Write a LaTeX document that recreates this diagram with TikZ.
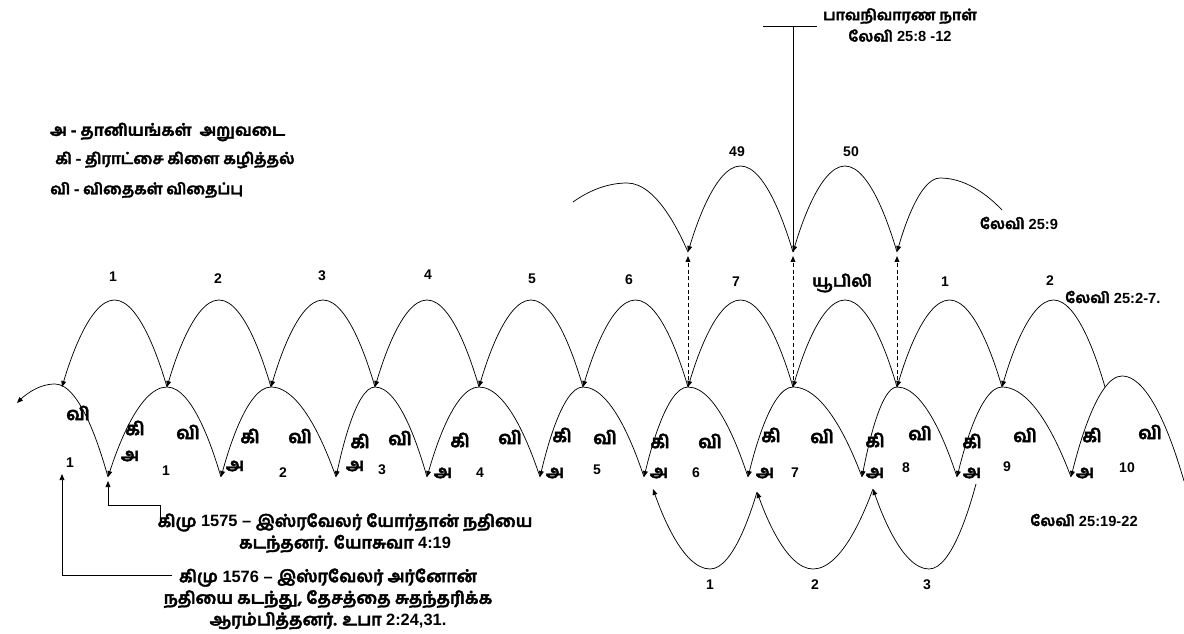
\documentclass[tikz,border=0pt]{standalone}
\usepackage{fontspec}
\setmainfont{Liberation Sans}
\newfontfamily\tam[Script=Tamil,FakeBold=2.2,Scale=1.02]{Hind Madurai}
\usetikzlibrary{arrows.meta}
\newcommand\tmw[1]{{\tam #1}}
\begin{document}
\begin{tikzpicture}[x=0.75pt,y=-0.75pt,
  arc/.style={line width=0.55pt},
  arr/.style={arc,-{Triangle[length=4.5pt,width=3.6pt]}},
  dsh/.style={line width=0.7pt,densely dashed,-{Triangle[length=4.5pt,width=3.6pt]}},
  num/.style={font=\bfseries\fontsize{10.5}{12}\selectfont,inner sep=0pt},
  ta/.style={font=\tam\bfseries\fontsize{12}{14}\selectfont,inner sep=0pt},
  tl/.style={font=\tam\bfseries\fontsize{13.2}{14}\selectfont,inner sep=0pt},
  mix/.style={font=\bfseries\fontsize{11}{16}\selectfont,inner sep=0pt,align=center},
  note/.style={font=\bfseries\fontsize{12.3}{16.2}\selectfont,inner sep=0pt,align=center}]
\useasboundingbox (0,0) rectangle (1184,634);

% ---------- legend ----------
\node[ta,anchor=west] (leg1) at (50,132) {அ - தானியங்கள்~ அறுவடை};
\node[ta,anchor=west,font=\tam\bfseries\fontsize{11.4}{14}\selectfont] (leg2) at (55,160) {கி - திராட்சை கிளை கழித்தல்};
\node[ta,anchor=west,font=\tam\bfseries\fontsize{11.2}{14}\selectfont] (leg3) at (50,190) {வி - விதைகள் விதைப்பு};

% ---------- coordinates ----------
\foreach \i/\x in {0/62,1/167,2/271,3/375,4/479,5/583,6/688,7/793,8/897,9/1002,10/1105}
  \coordinate (u\i) at (\x,387);
\foreach \i/\x in {1/114.5,2/219,3/323,4/427,5/531,6/635.5,7/740.5,8/845,9/949.5,10/1053.5}
  \coordinate (t\i) at (\x,300);
\foreach \i/\x in {0/108,1/221,2/336,3/427,4/540,5/644,6/748,7/862,8/957,9/1071}
  \coordinate (b\i) at (\x,477);
\foreach \i/\x in {0/167,1/271,2/375,3/479,4/583,5/688,6/793,7/897,8/1002}
  \coordinate (p\i) at (\x,387);
\coordinate (p9) at (1122,376);
\coordinate (pl) at (55,384);
\coordinate (bl) at (17,403);
\coordinate (br) at (1184,481);

% ---------- upper row of arcs ----------
\foreach \i/\j in {0/1,1/2,2/3,3/4,4/5,5/6,6/7,7/8,8/9,9/10}
  \draw[arr] (u\j) parabola bend (t\j) (u\i);

% ---------- lower row of arcs ----------
\foreach \i/\j in {0/1,1/2,2/3,3/4,4/5,5/6,6/7,7/8,8/9}
  \draw[arr] (b\j) parabola bend (p\i) (b\i);
\draw[arr] (br) parabola bend (p9) (b9);
\draw[arr] (b0) parabola bend (pl) (bl);

% ---------- top row (49, 50) ----------
\coordinate (w6) at (688,252);
\coordinate (w7) at (793,252);
\coordinate (w8) at (897,252);
\coordinate (wl) at (573,202);
\coordinate (wr) at (1002,210);
\coordinate (v6) at (688,256);
\coordinate (v7) at (793,256);
\coordinate (v8) at (897,256);
\draw[arc] (w6) parabola bend (627,183) (wl);
\draw[arr] (w7) parabola bend (740.5,166) (w6);
\draw[arr] (w8) parabola bend (845,166) (w7);
\draw[arr] (wr) parabola bend (940,178) (w8);

% dashed links
\draw[dsh] (u6) -- (v6);
\draw[dsh] (u7) -- (v7);
\draw[dsh] (u8) -- (v8);

% atonement day marker
\coordinate (m0) at (793,26);
\coordinate (ml) at (763,26);
\coordinate (mr) at (817,26);
\draw[arc] (m0) -- (w7);
\draw[arc] (ml) -- (mr);
\node[mix] (atone) at (900,25) {\tmw{பாவநிவாரண நாள்}\\\tmw{லேவி} 25:8 -12};

% ---------- bottom arcs (6th year harvest) ----------
\coordinate (q0) at (653,489);
\coordinate (q1) at (757,492);
\coordinate (q2) at (873,489);
\coordinate (q3) at (976,484);
\draw[arr] (q3) parabola bend (929,569) (q2);
\draw[arr] (q2) parabola bend (813,569) (q1);
\draw[arr] (q1) parabola bend (710,569) (q0);
\node[num] (bn1) at (710,585) {1};
\node[num] (bn2) at (815,585) {2};
\node[num] (bn3) at (927,585) {3};

% ---------- labels on upper row ----------
\foreach \x/\y/\t [count=\n] in {113/277/1,218/279/2,322/276/3,428/275/4,532/279/5,629/280/6,736/282/7,945/282/1,1050/281/2}
  \node[num] (yl\n) at (\x,\y) {\t};
\node[ta] (jub) at (842,283) {யூபிலி};
\node[num] (n49) at (737,152) {49};
\node[num] (n50) at (851,152) {50};

% ---------- labels on middle row ----------
\foreach \x/\y [count=\n] in {78/413,188/432,300/436,400/438,510/437,605/437,710/441,822/436,920/433,1025/435,1150/432}
  \node[tl] (vi\n) at (\x,\y) {வி};
\foreach \x/\y [count=\n] in {135/428,250/436,360/441,460/440,562/435,660/441,771/435,875/440,972/441,1092/435}
  \node[tl] (ki\n) at (\x,\y) {கி};
\foreach \x/\y [count=\n] in {130/456,235/466,355/466,443/473,555/473,659/473,765/473,875/473,972/473,1085/473}
  \node[tl] (a\n) at (\x,\y) {அ};
\foreach \x/\y/\t [count=\n] in {70/463/1,166/471/1,283/473/2,382/470/3,480/473/4,597/470/5,696/473/6,795/473/7,906/468/8,1007/467/9,1127/468/10}
  \node[num] (yn\n) at (\x,\y) {\t};

% ---------- reference labels ----------
\node[mix] (r9) at (1019,223) {\tmw{லேவி} 25:9};
\node[mix,anchor=west] (r27) at (1065,297) {\tmw{லேவி} 25:2-7.};
\node[mix] (r1922) at (1084,520) {\tmw{லேவி} 25:19-22};

% ---------- historical notes ----------
\node[note] (h1575) at (345,533) {\tmw{கிமு} 1575 – \tmw{இஸ்ரவேலர் யோர்தான் நதியை}\\\tmw{கடந்தனர். யோசுவா} 4:19};
\node[note] (h1576) at (328,599) {\tmw{கிமு} 1576 – \tmw{இஸ்ரவேலர் அர்னோன்}\\\tmw{நதியை கடந்து, தேசத்தை சுதந்தரிக்க}\\\tmw{ஆரம்பித்தனர். உபா} 2:24,31.};

\coordinate (c1) at (160,525);
\coordinate (c2) at (160,505);
\coordinate (c3) at (108,505);
\coordinate (c4) at (108,481);
\draw[arr] (c1) -- (c2) -- (c3) -- (c4);
\coordinate (d1) at (172,575);
\coordinate (d2) at (62,575);
\coordinate (d3) at (62,474);
\draw[arr] (d1) -- (d2) -- (d3);
\end{tikzpicture}
\end{document}
